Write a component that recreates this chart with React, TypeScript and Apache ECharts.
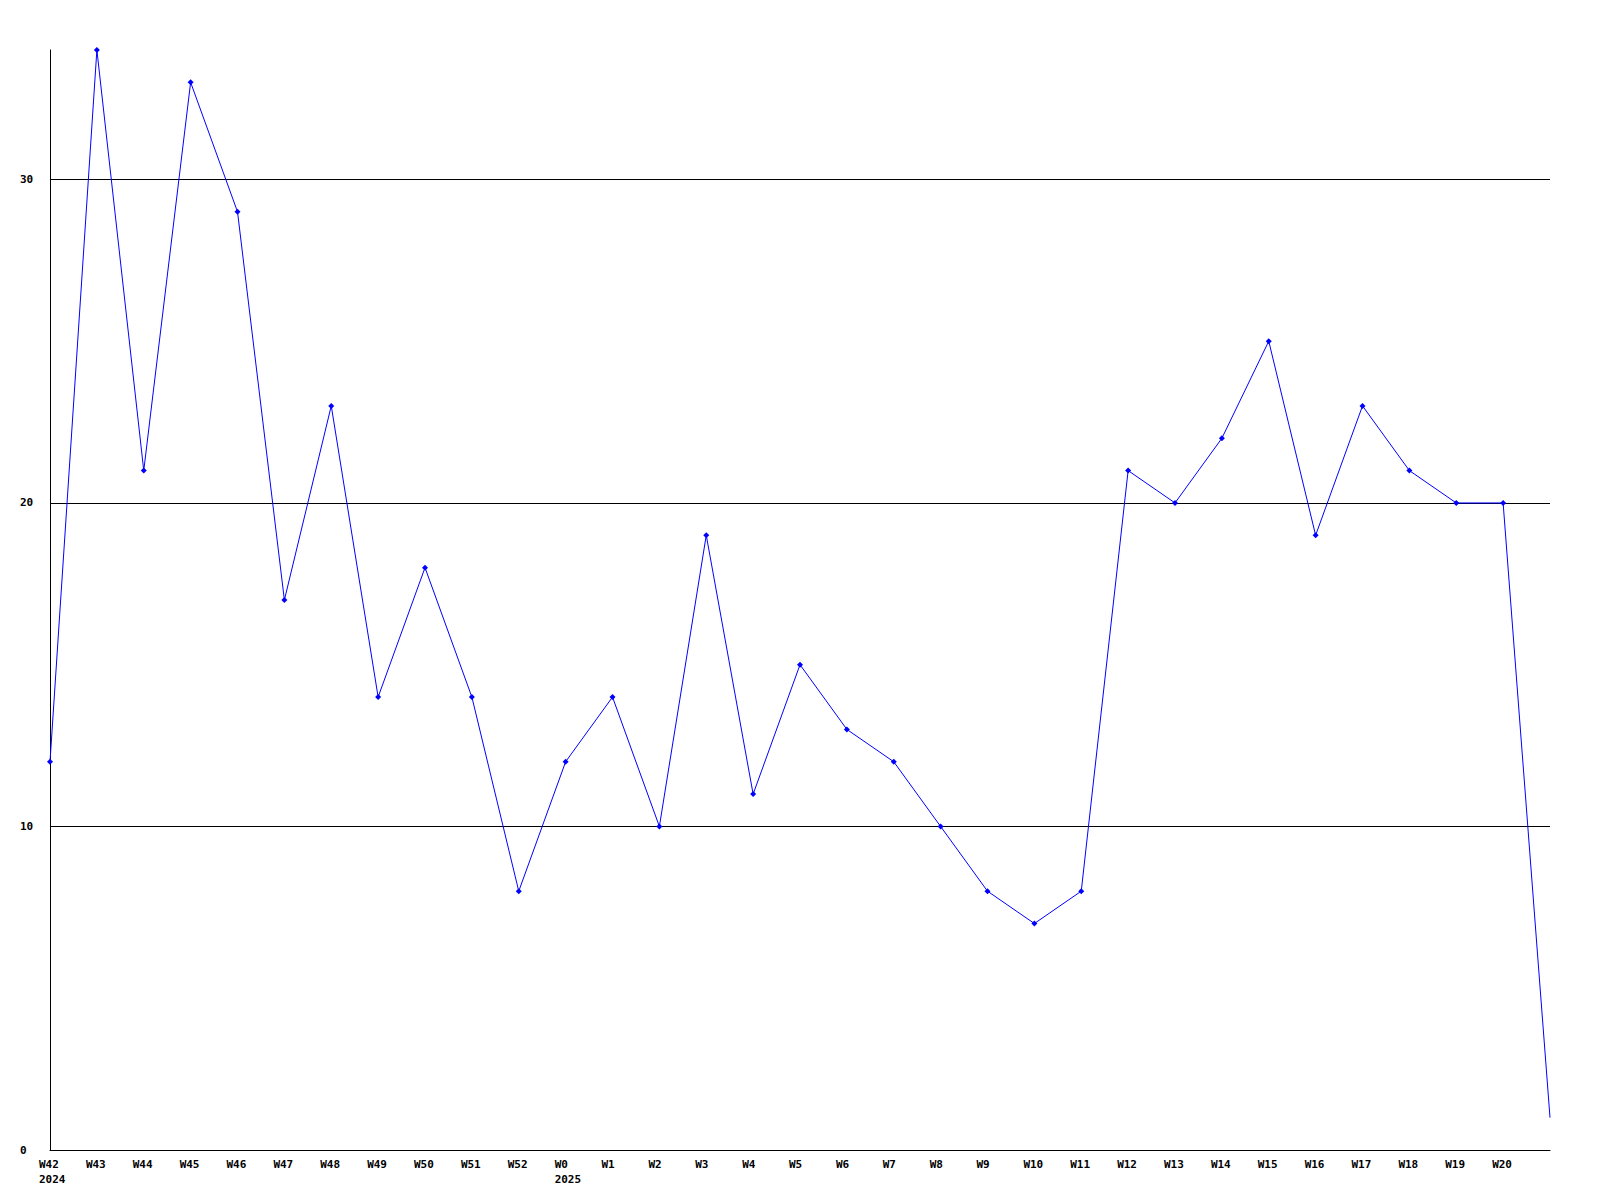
import React, { useEffect, useRef } from "react";
import * as echarts from "echarts";

const weeks = [
  "W42", "W43", "W44", "W45", "W46", "W47", "W48", "W49", "W50", "W51", "W52",
  "W0", "W1", "W2", "W3", "W4", "W5", "W6", "W7", "W8", "W9", "W10",
  "W11", "W12", "W13", "W14", "W15", "W16", "W17", "W18", "W19", "W20", "",
];
const yearLabels: Record<string, string> = { W42: "2024", W0: "2025" };
const values = [
  12, 34, 21, 33, 29, 17, 23, 14, 18, 14, 8,
  12, 14, 10, 19, 11, 15, 13, 12, 10, 8, 7,
  8, 21, 20, 22, 25, 19, 23, 21, 20, 20, 1,
];
const yTicks = { min: 0, max: 34, interval: 10 };
const gridValues = [10, 20, 30];

export default function App() {
  const ref = useRef<HTMLDivElement>(null);
  useEffect(() => {
    if (!ref.current) return;
    const chart = echarts.init(ref.current, null, { renderer: "svg" });
    const font = "'DejaVu Sans Mono', monospace";
    const seriesData = values.map((v, i) =>
      i === values.length - 1 ? { value: v, symbol: "none" } : v
    );
    chart.setOption({
      animation: false,
      backgroundColor: "#ffffff",
      grid: { left: 50, right: 50, top: 50, bottom: 50, containLabel: false },
      xAxis: {
        type: "category",
        data: weeks,
        boundaryGap: false,
        axisLine: { show: true, lineStyle: { color: "#000", width: 1 } },
        axisTick: { show: false },
        splitLine: { show: false },
        axisLabel: {
          interval: 0,
          margin: 7,
          formatter: (v: string) =>
            yearLabels[v] ? `{a|${v}}\n{a|${yearLabels[v]}}` : `{a|${v}}`,
          rich: {
            a: {
              width: 22,
              align: "left",
              fontFamily: font,
              fontWeight: "bold",
              fontSize: 11,
              lineHeight: 15,
              color: "#000",
            },
          },
        },
      },
      yAxis: {
        type: "value",
        min: yTicks.min,
        max: yTicks.max,
        interval: yTicks.interval,
        axisLine: { show: true, lineStyle: { color: "#000", width: 1 } },
        axisTick: { show: false },
        splitLine: { show: false },
        axisLabel: {
          align: "left",
          margin: 30,
          fontFamily: font,
          fontWeight: "bold",
          fontSize: 11,
          color: "#000",
          showMaxLabel: false,
        },
      },
      series: [
        {
          type: "line",
          data: seriesData,
          symbol: "diamond",
          symbolSize: 6,
          showAllSymbol: true,
          z: 3,
          lineStyle: { color: "#0000ff", width: 1 },
          itemStyle: { color: "#0000ff" },
          markLine: {
            silent: true,
            symbol: ["none", "none"],
            label: { show: false },
            z: 1,
            lineStyle: { color: "#000", width: 1, type: "solid" },
            data: gridValues.map((v) => ({ yAxis: v })),
          },
        },
      ],
    });
    return () => chart.dispose();
  }, []);
  return (
    <div
      ref={ref}
      style={{ position: "absolute", left: 0, top: 0, width: 1600, height: 1200 }}
    />
  );
}
